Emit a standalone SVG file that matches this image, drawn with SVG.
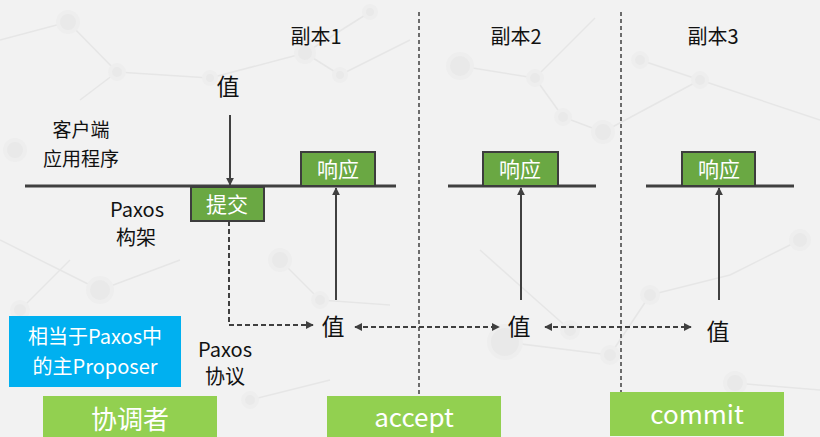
<svg xmlns="http://www.w3.org/2000/svg" width="820" height="437" viewBox="0 0 820 437">
<style>
.t{font-family:"Noto Sans CJK SC","Microsoft YaHei",sans-serif;fill:#111;text-anchor:middle}
.w{font-family:"Noto Sans CJK SC","Microsoft YaHei",sans-serif;fill:#fff;text-anchor:middle}
.box{fill:#6aa843;stroke:#3d3d3d;stroke-width:2}
.bar{stroke:#404040;stroke-width:3}
.sol{stroke:#404040;stroke-width:2;fill:none}
.dsh{stroke:#404040;stroke-width:2;fill:none;stroke-dasharray:5,3}
.sep{stroke:#404040;stroke-width:1.5;stroke-dasharray:4,3}
.bg line{stroke:#e6e6e6;stroke-width:1.5}
.bg circle{fill:#e9e9e9;stroke:#eeeeee;stroke-width:4}
</style>
<defs>
<marker id="ah" viewBox="0 0 10 10" refX="9" refY="5" markerWidth="4" markerHeight="4" orient="auto-start-reverse">
<path d="M0,0L10,5L0,10z" fill="#404040"/>
</marker>
</defs>
<rect width="820" height="437" fill="#f2f2f2"/>
<g class="bg">
<line x1="68" y1="22" x2="117" y2="72"/><line x1="117" y1="72" x2="80" y2="100"/><line x1="68" y1="22" x2="0" y2="40"/>
<line x1="117" y1="72" x2="210" y2="78"/><line x1="210" y1="78" x2="305" y2="53"/><line x1="305" y1="53" x2="340" y2="75"/>
<line x1="305" y1="53" x2="370" y2="12"/><line x1="340" y1="75" x2="410" y2="40"/><line x1="460" y1="66" x2="535" y2="78"/>
<line x1="535" y1="78" x2="595" y2="18"/><line x1="535" y1="78" x2="563" y2="117"/><line x1="563" y1="117" x2="603" y2="132"/>
<line x1="603" y1="132" x2="700" y2="80"/><line x1="700" y1="80" x2="640" y2="60"/><line x1="700" y1="80" x2="820" y2="120"/>
<line x1="100" y1="290" x2="0" y2="240"/><line x1="100" y1="290" x2="180" y2="260"/><line x1="280" y1="260" x2="320" y2="300"/>
<line x1="320" y1="300" x2="390" y2="305"/><line x1="505" y1="342" x2="610" y2="355"/><line x1="610" y1="355" x2="650" y2="295"/>
<line x1="650" y1="295" x2="730" y2="275"/><line x1="730" y1="275" x2="800" y2="240"/><line x1="735" y1="383" x2="820" y2="390"/>
<line x1="480" y1="250" x2="570" y2="330"/><line x1="20" y1="310" x2="70" y2="260"/><line x1="250" y1="400" x2="330" y2="380"/>
<circle cx="68" cy="22" r="10"/><circle cx="117" cy="72" r="7"/><circle cx="210" cy="78" r="6"/><circle cx="305" cy="53" r="9"/>
<circle cx="340" cy="75" r="6"/><circle cx="370" cy="12" r="6"/><circle cx="460" cy="66" r="12"/><circle cx="535" cy="78" r="7"/>
<circle cx="563" cy="117" r="7"/><circle cx="603" cy="132" r="10"/><circle cx="640" cy="60" r="7"/><circle cx="700" cy="80" r="7"/>
<circle cx="100" cy="290" r="12"/><circle cx="280" cy="260" r="10"/><circle cx="320" cy="300" r="7"/><circle cx="505" cy="342" r="16"/>
<circle cx="610" cy="355" r="8"/><circle cx="650" cy="295" r="8"/><circle cx="735" cy="383" r="10"/><circle cx="800" cy="240" r="9"/>
<circle cx="570" cy="330" r="8"/><circle cx="20" cy="310" r="8"/><circle cx="250" cy="400" r="7"/><circle cx="15" cy="150" r="10"/>
</g>
<g id="separators">
<line class="sep" x1="419" y1="12" x2="419" y2="395"/>
<line class="sep" x1="621" y1="12" x2="621" y2="392"/>
</g>
<g id="connectors">
<line class="sol" x1="230" y1="115" x2="230" y2="185" marker-end="url(#ah)"/>
<path class="dsh" d="M229,221V325H313" marker-end="url(#ah)"/>
<line class="sol" x1="336" y1="300" x2="336" y2="188" marker-end="url(#ah)"/>
<line class="sol" x1="521" y1="300" x2="521" y2="188" marker-end="url(#ah)"/>
<line class="sol" x1="719" y1="300" x2="719" y2="188" marker-end="url(#ah)"/>
<line class="dsh" x1="355" y1="327" x2="499" y2="327" marker-start="url(#ah)" marker-end="url(#ah)"/>
<line class="dsh" x1="545" y1="327" x2="691" y2="327" marker-start="url(#ah)" marker-end="url(#ah)"/>
</g>
<g id="timeline1"><line class="bar" x1="25" y1="186" x2="396" y2="186"/></g>
<g id="timeline2"><line class="bar" x1="448" y1="186" x2="596" y2="186"/></g>
<g id="timeline3"><line class="bar" x1="646" y1="186" x2="794" y2="186"/></g>
<g id="replica-labels">
<text class="t" x="316" y="44" font-size="20">副本1</text>
<text class="t" x="516" y="44" font-size="20">副本2</text>
<text class="t" x="713" y="44" font-size="20">副本3</text>
</g>
<g id="value-in"><text class="t" x="228" y="95" font-size="23">值</text></g>
<g id="client-label">
<text class="t" x="81" y="137" font-size="19">客户端</text>
<text class="t" x="81" y="166" font-size="19">应用程序</text>
</g>
<g id="framework-label">
<text class="t" x="137" y="217" font-size="20">Paxos</text>
<text class="t" x="136" y="245" font-size="20">构架</text>
</g>
<g id="submit"><rect class="box" x="191" y="187" width="73" height="34"/><text class="w" x="227" y="212" font-size="21">提交</text></g>
<g id="resp1"><rect class="box" x="301" y="152" width="74" height="34"/><text class="w" x="338" y="177" font-size="21">响应</text></g>
<g id="resp2"><rect class="box" x="483" y="152" width="75" height="34"/><text class="w" x="520" y="177" font-size="21">响应</text></g>
<g id="resp3"><rect class="box" x="682" y="152" width="73" height="34"/><text class="w" x="719" y="177" font-size="21">响应</text></g>
<g id="val1"><text class="t" x="333" y="335" font-size="23">值</text></g>
<g id="val2"><text class="t" x="519" y="335" font-size="23">值</text></g>
<g id="val3"><text class="t" x="718" y="340" font-size="23">值</text></g>
<g id="note">
<rect x="9" y="316" width="172" height="71" fill="#00b0f0"/>
<text class="w" x="95" y="344" font-size="20">相当于Paxos中</text>
<text class="w" x="95" y="374" font-size="20">的主Proposer</text>
</g>
<g id="protocol-label">
<text class="t" x="225" y="357" font-size="20">Paxos</text>
<text class="t" x="225" y="384" font-size="20">协议</text>
</g>
<g id="coordinator"><rect x="43" y="396" width="174" height="41" fill="#92d050"/><text class="w" x="130" y="429" font-size="26">协调者</text></g>
<g id="accept"><rect x="327" y="396" width="174" height="41" fill="#92d050"/><text class="w" x="414" y="427" font-size="26">accept</text></g>
<g id="commit"><rect x="610" y="392" width="174" height="44" fill="#92d050"/><text class="w" x="697" y="424" font-size="26">commit</text></g>
</svg>
